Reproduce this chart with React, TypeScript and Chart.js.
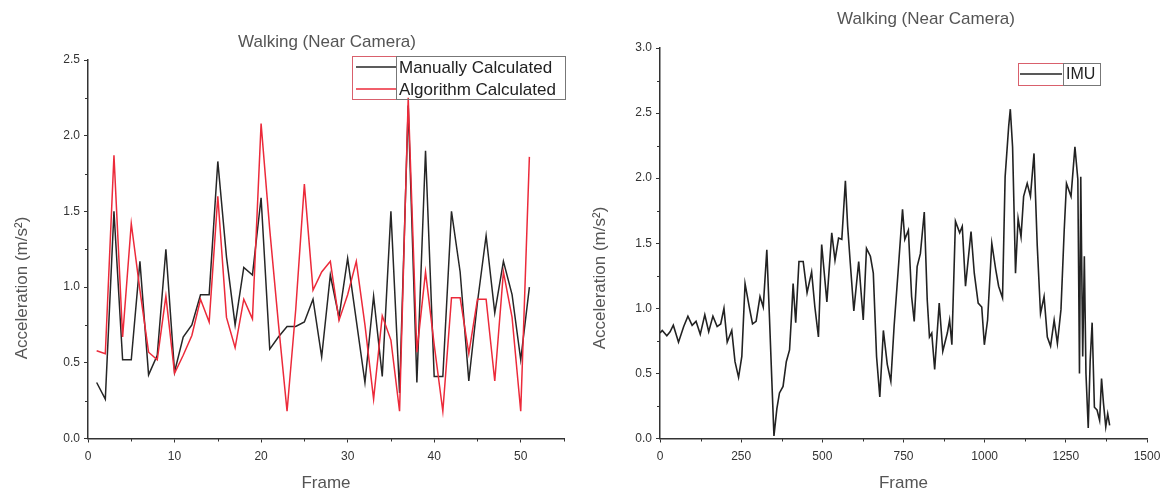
import React, { useEffect, useRef } from "react";
import { Chart, registerables } from "chart.js";
Chart.register(...registerables);

const FONT = '"Liberation Sans", Arial, sans-serif';

const TITLE = "Walking (Near Camera)";
const X_TITLE = "Frame";
const Y_TITLE = "Acceleration (m/s\u00B2)";

// Left chart: camera based
const FRAMES = [1, 2, 3, 4, 5, 6, 7, 8, 9, 10, 11, 12, 13, 14, 15, 16, 17, 18, 19, 20, 21, 22, 23, 24, 25, 26, 27, 28, 29, 30, 31, 32, 33, 34, 35, 36, 37, 38, 39, 40, 41, 42, 43, 44, 45, 46, 47, 48, 49, 50, 51];
const MANUAL_CALC = [0.37, 0.26, 1.5, 0.52, 0.52, 1.17, 0.42, 0.55, 1.25, 0.44, 0.67, 0.75, 0.95, 0.95, 1.83, 1.2, 0.75, 1.13, 1.08, 1.59, 0.59, 0.67, 0.74, 0.74, 0.77, 0.92, 0.54, 1.08, 0.8, 1.19, 0.78, 0.37, 0.94, 0.41, 1.5, 0.3, 2.2, 0.37, 1.9, 0.41, 0.41, 1.5, 1.1, 0.38, 0.9, 1.34, 0.83, 1.17, 0.95, 0.52, 1.0];
const ALGORITHM_CALC = [0.58, 0.56, 1.87, 0.67, 1.42, 0.98, 0.57, 0.52, 0.94, 0.43, 0.55, 0.68, 0.92, 0.77, 1.6, 0.8, 0.6, 0.92, 0.79, 2.08, 1.38, 0.76, 0.18, 0.85, 1.68, 0.98, 1.1, 1.17, 0.78, 0.95, 1.17, 0.75, 0.26, 0.81, 0.65, 0.18, 2.25, 0.57, 1.1, 0.62, 0.18, 0.93, 0.93, 0.56, 0.92, 0.92, 0.38, 1.1, 0.8, 0.18, 1.86];
const LEFT_X_TICKS = [0, 10, 20, 30, 40, 50];
const LEFT_Y_TICKS = [0, 0.5, 1, 1.5, 2, 2.5];

// Right chart: IMU
const IMU_FRAME = [0, 7, 21, 31, 41, 57, 73, 86, 99, 111, 124, 138, 150, 163, 176, 187, 197, 207, 221, 231, 242, 252, 262, 275, 285, 296, 308, 318, 329, 337, 345, 351, 360, 368, 379, 389, 399, 405, 410, 418, 428, 441, 453, 467, 477, 488, 498, 514, 529, 539, 550, 560, 571, 578, 586, 597, 612, 626, 636, 648, 657, 667, 677, 688, 700, 711, 721, 733, 747, 754, 765, 775, 783, 792, 802, 814, 823, 830, 837, 846, 860, 871, 885, 892, 899, 910, 923, 931, 941, 958, 968, 980, 991, 999, 1009, 1022, 1034, 1043, 1055, 1063, 1074, 1079, 1086, 1095, 1103, 1112, 1120, 1131, 1141, 1152, 1162, 1172, 1183, 1193, 1203, 1214, 1224, 1235, 1245, 1252, 1266, 1278, 1287, 1292, 1296, 1302, 1307, 1312, 1319, 1325, 1331, 1338, 1346, 1354, 1360, 1366, 1373, 1379, 1385];
const IMU_ACCEL = [0.81, 0.83, 0.79, 0.82, 0.87, 0.74, 0.86, 0.94, 0.87, 0.9, 0.8, 0.95, 0.82, 0.94, 0.86, 0.88, 1.0, 0.74, 0.83, 0.59, 0.47, 0.63, 1.19, 1.01, 0.88, 0.9, 1.09, 1.01, 1.45, 0.94, 0.41, 0.02, 0.23, 0.35, 0.4, 0.59, 0.68, 0.94, 1.19, 0.89, 1.36, 1.36, 1.12, 1.28, 1.01, 0.78, 1.49, 1.05, 1.58, 1.37, 1.54, 1.53, 1.98, 1.63, 1.35, 0.98, 1.36, 0.91, 1.46, 1.4, 1.27, 0.63, 0.32, 0.83, 0.57, 0.44, 0.86, 1.27, 1.76, 1.53, 1.6, 1.09, 0.9, 1.32, 1.42, 1.74, 1.07, 0.78, 0.81, 0.53, 1.04, 0.67, 0.81, 0.91, 0.72, 1.67, 1.58, 1.63, 1.17, 1.59, 1.27, 1.04, 1.01, 0.72, 0.91, 1.5, 1.3, 1.17, 1.08, 2.01, 2.4, 2.53, 2.24, 1.27, 1.69, 1.55, 1.86, 1.96, 1.86, 2.19, 1.48, 0.96, 1.09, 0.78, 0.71, 0.91, 0.73, 0.99, 1.6, 1.96, 1.86, 2.24, 1.99, 0.5, 2.01, 0.63, 1.4, 0.5, 0.08, 0.6, 0.89, 0.24, 0.22, 0.14, 0.46, 0.27, 0.09, 0.19, 0.1];
const RIGHT_X_TICKS = [0, 250, 500, 750, 1000, 1250, 1500];
const RIGHT_Y_TICKS = [0, 0.5, 1, 1.5, 2, 2.5, 3];

const MANUAL_COLOR = "#262626";
const ALGO_COLOR = "#ec2a3a";
const IMU_COLOR = "#222222";

type LegendEntry = { label: string; color: string };
type OverlayCfg = {
  xTicks: number[];
  yTicks: number[];
  titlePos: [number, number];
  yTitlePos: [number, number];
  legendBox: { x: number; y: number; w: number; h: number; split: number };
  legendRows: number[];
  legendLine: [number, number];
  legendTextX: number;
  legendFont: number;
  legendItems: LegendEntry[];
};

function minorValues(ticks: number[], max: number) {
  const out: number[] = [];
  const step = ticks[1] - ticks[0];
  for (let i = 0; i < ticks.length; i++) {
    const a = ticks[i];
    const b = i + 1 < ticks.length ? ticks[i + 1] : a + step;
    const m = (a + b) / 2;
    if (m <= max + 1e-9) out.push(m);
  }
  return out;
}

function makeOverlay(o: OverlayCfg) {
  return {
    id: "overlay",
    afterDraw(chart: any) {
      const { ctx, chartArea, scales } = chart;
      const xs = scales.x;
      const ys = scales.y;
      ctx.save();
      // minor ticks
      ctx.strokeStyle = "#333";
      ctx.lineWidth = 1;
      ctx.beginPath();
      for (const v of minorValues(o.xTicks, xs.max)) {
        const px = Math.round(xs.getPixelForValue(v)) + 0.5;
        ctx.moveTo(px, chartArea.bottom);
        ctx.lineTo(px, chartArea.bottom + 3);
      }
      for (const v of minorValues(o.yTicks, ys.max)) {
        const py = Math.round(ys.getPixelForValue(v)) + 0.5;
        ctx.moveTo(chartArea.left, py);
        ctx.lineTo(chartArea.left - 3, py);
      }
      ctx.stroke();

      // title
      ctx.fillStyle = "#555";
      ctx.font = `17px ${FONT}`;
      ctx.textAlign = "center";
      ctx.textBaseline = "middle";
      ctx.fillText(TITLE, o.titlePos[0], o.titlePos[1]);

      // y axis title
      ctx.save();
      ctx.translate(o.yTitlePos[0], o.yTitlePos[1]);
      ctx.rotate(-Math.PI / 2);
      ctx.fillStyle = "#555";
      ctx.font = `17px ${FONT}`;
      ctx.fillText(Y_TITLE, 0, 0);
      ctx.restore();

      // legend
      const b = o.legendBox;
      ctx.lineWidth = 1;
      ctx.strokeStyle = "#d9606c";
      ctx.strokeRect(b.x + 0.5, b.y + 0.5, b.split - b.x, b.h);
      ctx.strokeStyle = "#777";
      ctx.strokeRect(b.split + 0.5, b.y + 0.5, b.x + b.w - b.split, b.h);
      o.legendItems.forEach((it, i) => {
        const y = o.legendRows[i];
        ctx.strokeStyle = it.color;
        ctx.lineWidth = 1.5;
        ctx.beginPath();
        ctx.moveTo(o.legendLine[0], y);
        ctx.lineTo(o.legendLine[1], y);
        ctx.stroke();
        ctx.fillStyle = "#222";
        ctx.font = `${o.legendFont}px ${FONT}`;
        ctx.textAlign = "left";
        ctx.textBaseline = "middle";
        ctx.fillText(it.label, o.legendTextX, y + 1);
      });
      ctx.restore();
    },
  };
}

function axisCommon() {
  return {
    type: "linear" as const,
    grid: {
      drawOnChartArea: false,
      drawTicks: true,
      tickLength: 4,
      tickColor: "#333",
      tickWidth: 1,
    },
    border: { display: true, color: "#333", width: 1.5 },
  };
}

function buildConfig(side: "left" | "right") {
  const isLeft = side === "left";
  const xTicks = isLeft ? LEFT_X_TICKS : RIGHT_X_TICKS;
  const yTicks = isLeft ? LEFT_Y_TICKS : RIGHT_Y_TICKS;
  const datasets = isLeft
    ? [
        {
          label: "Manually Calculated",
          data: FRAMES.map((f, i) => ({ x: f, y: MANUAL_CALC[i] })),
          borderColor: MANUAL_COLOR,
          borderWidth: 1.5,
          pointRadius: 0,
          tension: 0,
          order: 1,
        },
        {
          label: "Algorithm Calculated",
          data: FRAMES.map((f, i) => ({ x: f, y: ALGORITHM_CALC[i] })),
          borderColor: ALGO_COLOR,
          borderWidth: 1.5,
          pointRadius: 0,
          tension: 0,
          order: 0,
        },
      ]
    : [
        {
          label: "IMU",
          data: IMU_FRAME.map((f, i) => ({ x: f, y: IMU_ACCEL[i] })),
          borderColor: IMU_COLOR,
          borderWidth: 1.6,
          pointRadius: 0,
          tension: 0,
        },
      ];

  const overlay: OverlayCfg = isLeft
    ? {
        xTicks,
        yTicks,
        titlePos: [327, 42],
        yTitlePos: [22, 288],
        legendBox: { x: 352, y: 56, w: 213, h: 43, split: 396 },
        legendRows: [67, 89],
        legendLine: [356, 396],
        legendTextX: 399,
        legendFont: 17,
        legendItems: [
          { label: "Manually Calculated", color: MANUAL_COLOR },
          { label: "Algorithm Calculated", color: ALGO_COLOR },
        ],
      }
    : {
        xTicks,
        yTicks,
        titlePos: [346, 19],
        yTitlePos: [20, 278],
        legendBox: { x: 438, y: 63, w: 82, h: 22, split: 483 },
        legendRows: [74],
        legendLine: [440, 482],
        legendTextX: 486,
        legendFont: 16,
        legendItems: [{ label: "IMU", color: IMU_COLOR }],
      };

  return {
    type: "line" as const,
    data: { datasets },
    options: {
      responsive: false,
      animation: false as const,
      devicePixelRatio: 1,
      layout: {
        padding: isLeft
          ? { top: 60, right: 16, left: 0, bottom: 0 }
          : { top: 48, right: 15, left: 0, bottom: 0 },
      },
      plugins: {
        legend: { display: false },
        title: { display: false },
        tooltip: { enabled: false },
      },
      scales: {
        x: {
          ...axisCommon(),
          min: 0,
          max: isLeft ? 55 : 1500,
          afterBuildTicks: (s: any) => {
            s.ticks = xTicks.map((v) => ({ value: v }));
          },
          afterFit: (s: any) => {
            s.height = 57.5;
            s.paddingLeft = 0;
            s.paddingRight = 0;
          },
          ticks: {
            font: { family: FONT, size: 12 },
            color: "#333",
            padding: 7,
            maxRotation: 0,
            autoSkip: false,
            callback: (v: any) => String(v),
          },
          title: {
            display: true,
            text: X_TITLE,
            font: { family: FONT, size: 17 },
            color: "#555",
            padding: { top: 0, bottom: 2 },
          },
        },
        y: {
          ...axisCommon(),
          min: 0,
          max: isLeft ? 2.5 : 3,
          afterBuildTicks: (s: any) => {
            s.ticks = yTicks.map((v) => ({ value: v }));
          },
          afterFit: (s: any) => {
            s.width = isLeft ? 88 : 80;
          },
          ticks: {
            font: { family: FONT, size: 12 },
            color: "#333",
            padding: 4,
            autoSkip: false,
            callback: (v: any) => Number(v).toFixed(1),
          },
        },
      },
    },
    plugins: [makeOverlay(overlay)],
  };
}

function ChartPanel({ side, left, width }: { side: "left" | "right"; left: number; width: number }) {
  const ref = useRef<HTMLCanvasElement | null>(null);
  useEffect(() => {
    if (!ref.current) return;
    const chart = new Chart(ref.current, buildConfig(side) as any);
    return () => chart.destroy();
  }, [side]);
  return (
    <canvas
      ref={ref}
      width={width}
      height={496}
      style={{ position: "absolute", left, top: 0, width, height: 496 }}
    />
  );
}

export default function App() {
  return (
    <div
      style={{
        position: "fixed",
        left: 0,
        top: 0,
        width: 1162,
        height: 496,
        background: "#ffffff",
        overflow: "hidden",
      }}
    >
      <ChartPanel side="left" left={0} width={580} />
      <ChartPanel side="right" left={580} width={582} />
    </div>
  );
}
